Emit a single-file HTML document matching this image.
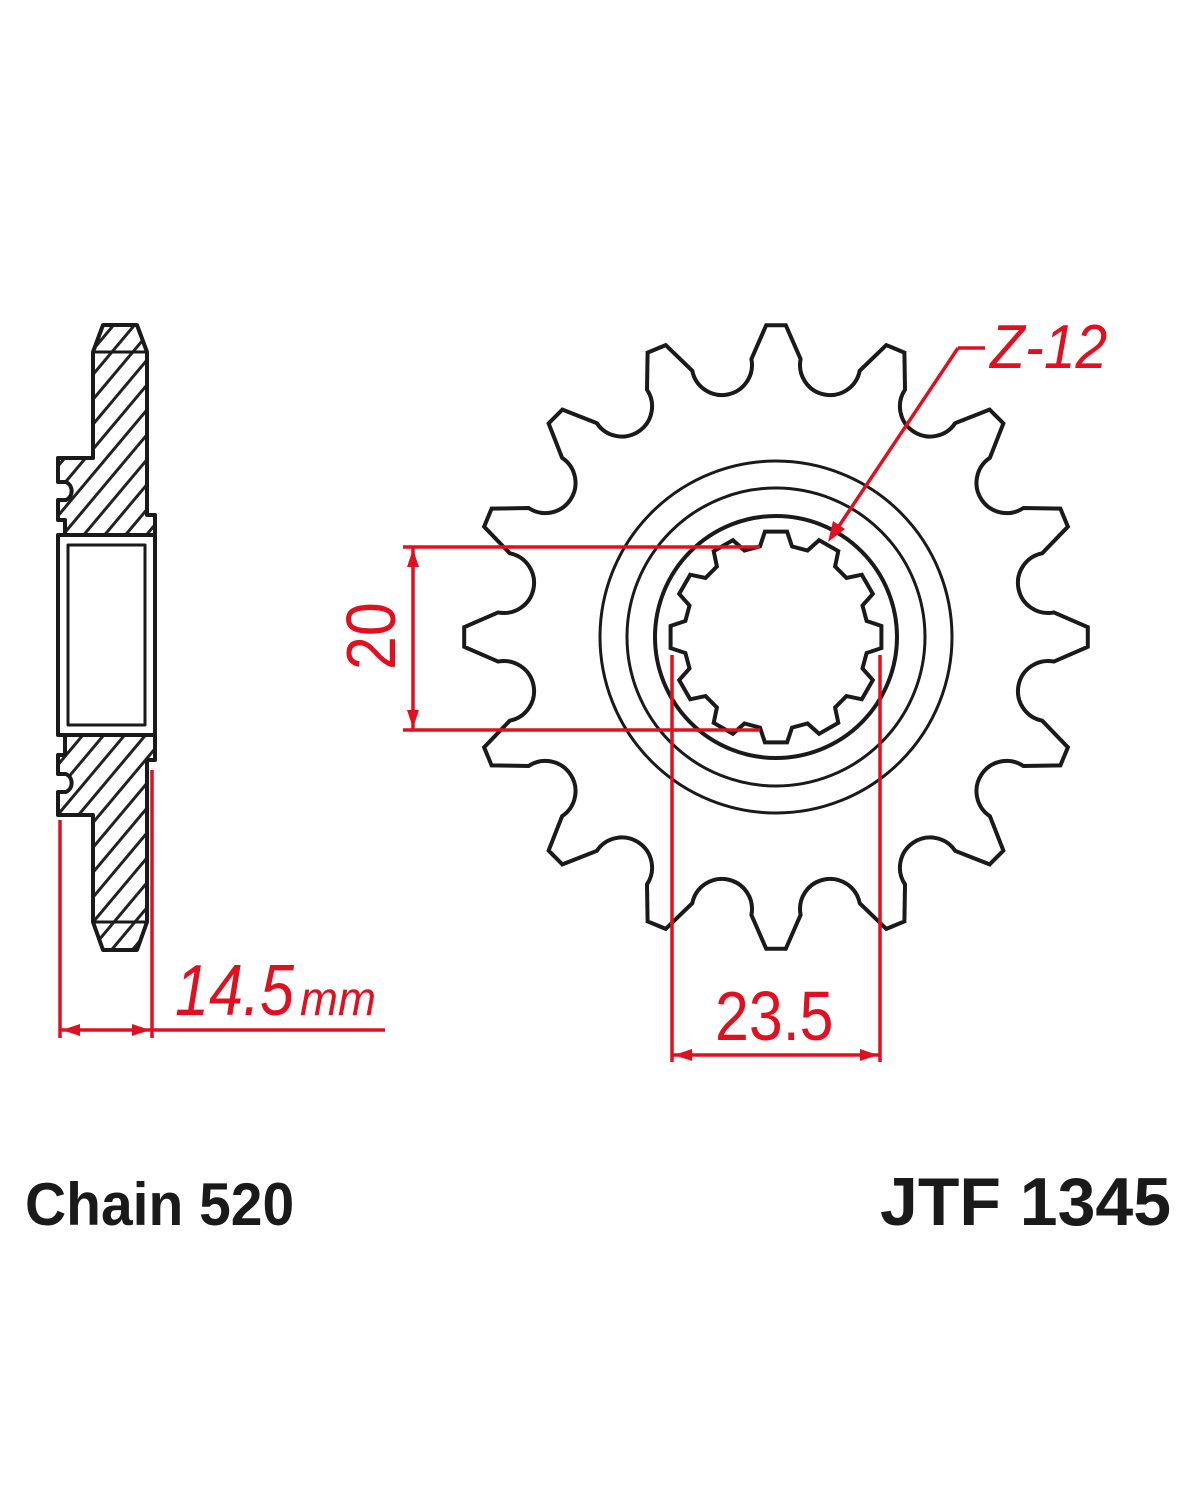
<!DOCTYPE html>
<html><head><meta charset="utf-8"><style>
html,body{margin:0;padding:0;background:#fff;}
svg{display:block}
</style></head><body>
<svg id="s" width="1200" height="1500" viewBox="0 0 1200 1500" xmlns="http://www.w3.org/2000/svg">
<defs>
<pattern id="h" patternUnits="userSpaceOnUse" width="16" height="16" patternTransform="rotate(40)">
<line x1="8" y1="0" x2="8" y2="16" stroke="#222" stroke-width="3"/>
</pattern>
</defs>
<rect width="1200" height="1500" fill="#fff"/>
<g stroke="#1a1a1a" stroke-width="4" fill="none" stroke-linejoin="round">
<path fill="url(#h)" d="M103,325 L137,325 L147,352 L147,515 L155,515 L155,535 L65,535 L65,520 L58,520 L58,500 L66,500 A10,10 0 0 0 66,482 L58,482 L58,458 L93,458 L93,352 Z"/>
<path fill="url(#h)" d="M65,735 L155,735 L155,760 L147,760 L147,922 L137,950 L103,950 L93,922 L93,815 L58,815 L58,792 L66,792 A10,10 0 0 0 66,774 L58,774 L58,755 L65,755 Z"/>
<rect x="58" y="535" width="97" height="200" fill="#fff"/>
<rect x="68" y="545" width="77" height="180" fill="#fff" stroke-width="3"/>
<line x1="93" y1="352" x2="147" y2="352" stroke-width="3"/>
<line x1="93" y1="922" x2="147" y2="922" stroke-width="3"/>
</g>
<g stroke="#1a1a1a" fill="none">
<path id="sp" stroke-width="4" d=""/>
<circle cx="776" cy="637" r="176" stroke-width="3"/>
<circle cx="776" cy="637" r="149" stroke-width="3"/>
<circle cx="776" cy="637" r="121" stroke-width="4"/>
<path id="spl" stroke-width="4" d=""/>
</g>
<g stroke="#e01020" stroke-width="3.5" fill="#e01020">
<line x1="60" y1="820" x2="60" y2="1038"/>
<line x1="152" y1="770" x2="152" y2="1038"/>
<line x1="60" y1="1030" x2="385" y2="1030"/>
<path d="M62,1030 L80,1024 L80,1036 Z" stroke="none"/>
<path d="M150,1030 L132,1024 L132,1036 Z" stroke="none"/>
<line x1="403" y1="547" x2="760" y2="547"/>
<line x1="403" y1="730" x2="760" y2="730"/>
<line x1="413" y1="547" x2="413" y2="730"/>
<path d="M413,549 L407,567 L419,567 Z" stroke="none"/>
<path d="M413,728 L407,710 L419,710 Z" stroke="none"/>
<line x1="672" y1="655" x2="672" y2="1062"/>
<line x1="880" y1="655" x2="880" y2="1062"/>
<line x1="672" y1="1055" x2="880" y2="1055"/>
<path d="M674,1055 L692,1049 L692,1061 Z" stroke="none"/>
<path d="M878,1055 L860,1049 L860,1061 Z" stroke="none"/>
<line x1="985" y1="348" x2="958" y2="348"/>
<line x1="958" y1="348" x2="835" y2="532"/>
<path d="M828,542 L833,521 L845,529 Z" stroke="none"/>
</g>
<g fill="#e01020" font-family="Liberation Sans, sans-serif" font-style="italic">
<text x="0" y="0" font-size="72" transform="translate(175,1015) scale(0.85,1)">14.5</text>
<text x="0" y="0" font-size="48" transform="translate(300,1015) scale(0.95,1)">mm</text>
<text x="0" y="0" font-size="70" font-style="normal" transform="translate(395,670) rotate(-90) scale(0.87,1)">20</text>
<text x="0" y="0" font-size="70" font-style="normal" transform="translate(715,1040) scale(0.87,1)">23.5</text>
<text x="0" y="0" font-size="62" transform="translate(990,368) scale(0.92,1)">Z-12</text>
</g>
<g fill="#1a1a1a" font-family="Liberation Sans, sans-serif" font-weight="bold">
<text x="0" y="0" font-size="60" transform="translate(25,1225) scale(0.95,1)">Chain 520</text>
<text x="0" y="0" font-size="68" transform="translate(880,1225)">JTF 1345</text>
</g>
</svg>
<script>
(function(){
var cx=776,cy=637;
function P(r,a){a=a*Math.PI/180;return (cx+r*Math.sin(a)).toFixed(1)+","+(cy-r*Math.cos(a)).toFixed(1);}
var d="",N=16,st=360/N;
for(var k=0;k<N;k++){
 var t=k*st;
 d+=(k==0?"M":"L")+P(312,t-1.8)+" L"+P(312,t+1.8)+" L"+P(279,t+st/2-6.2)+" A30,30 0 0 0 "+P(279,t+st/2+6.2)+" ";
}
d+="Z";
document.getElementById("sp").setAttribute("d",d);
var s="",M=12,ss=30;
for(var j=0;j<M;j++){
 var b=j*ss+15;
 s+=(j==0?"M":"L")+P(92,b-5)+" L"+P(92,b+5)+" L"+P(106,b+9)+" L"+P(106,b+21)+" ";
}
s+="Z";
document.getElementById("spl").setAttribute("d",s);
})();
</script>
</body></html>
